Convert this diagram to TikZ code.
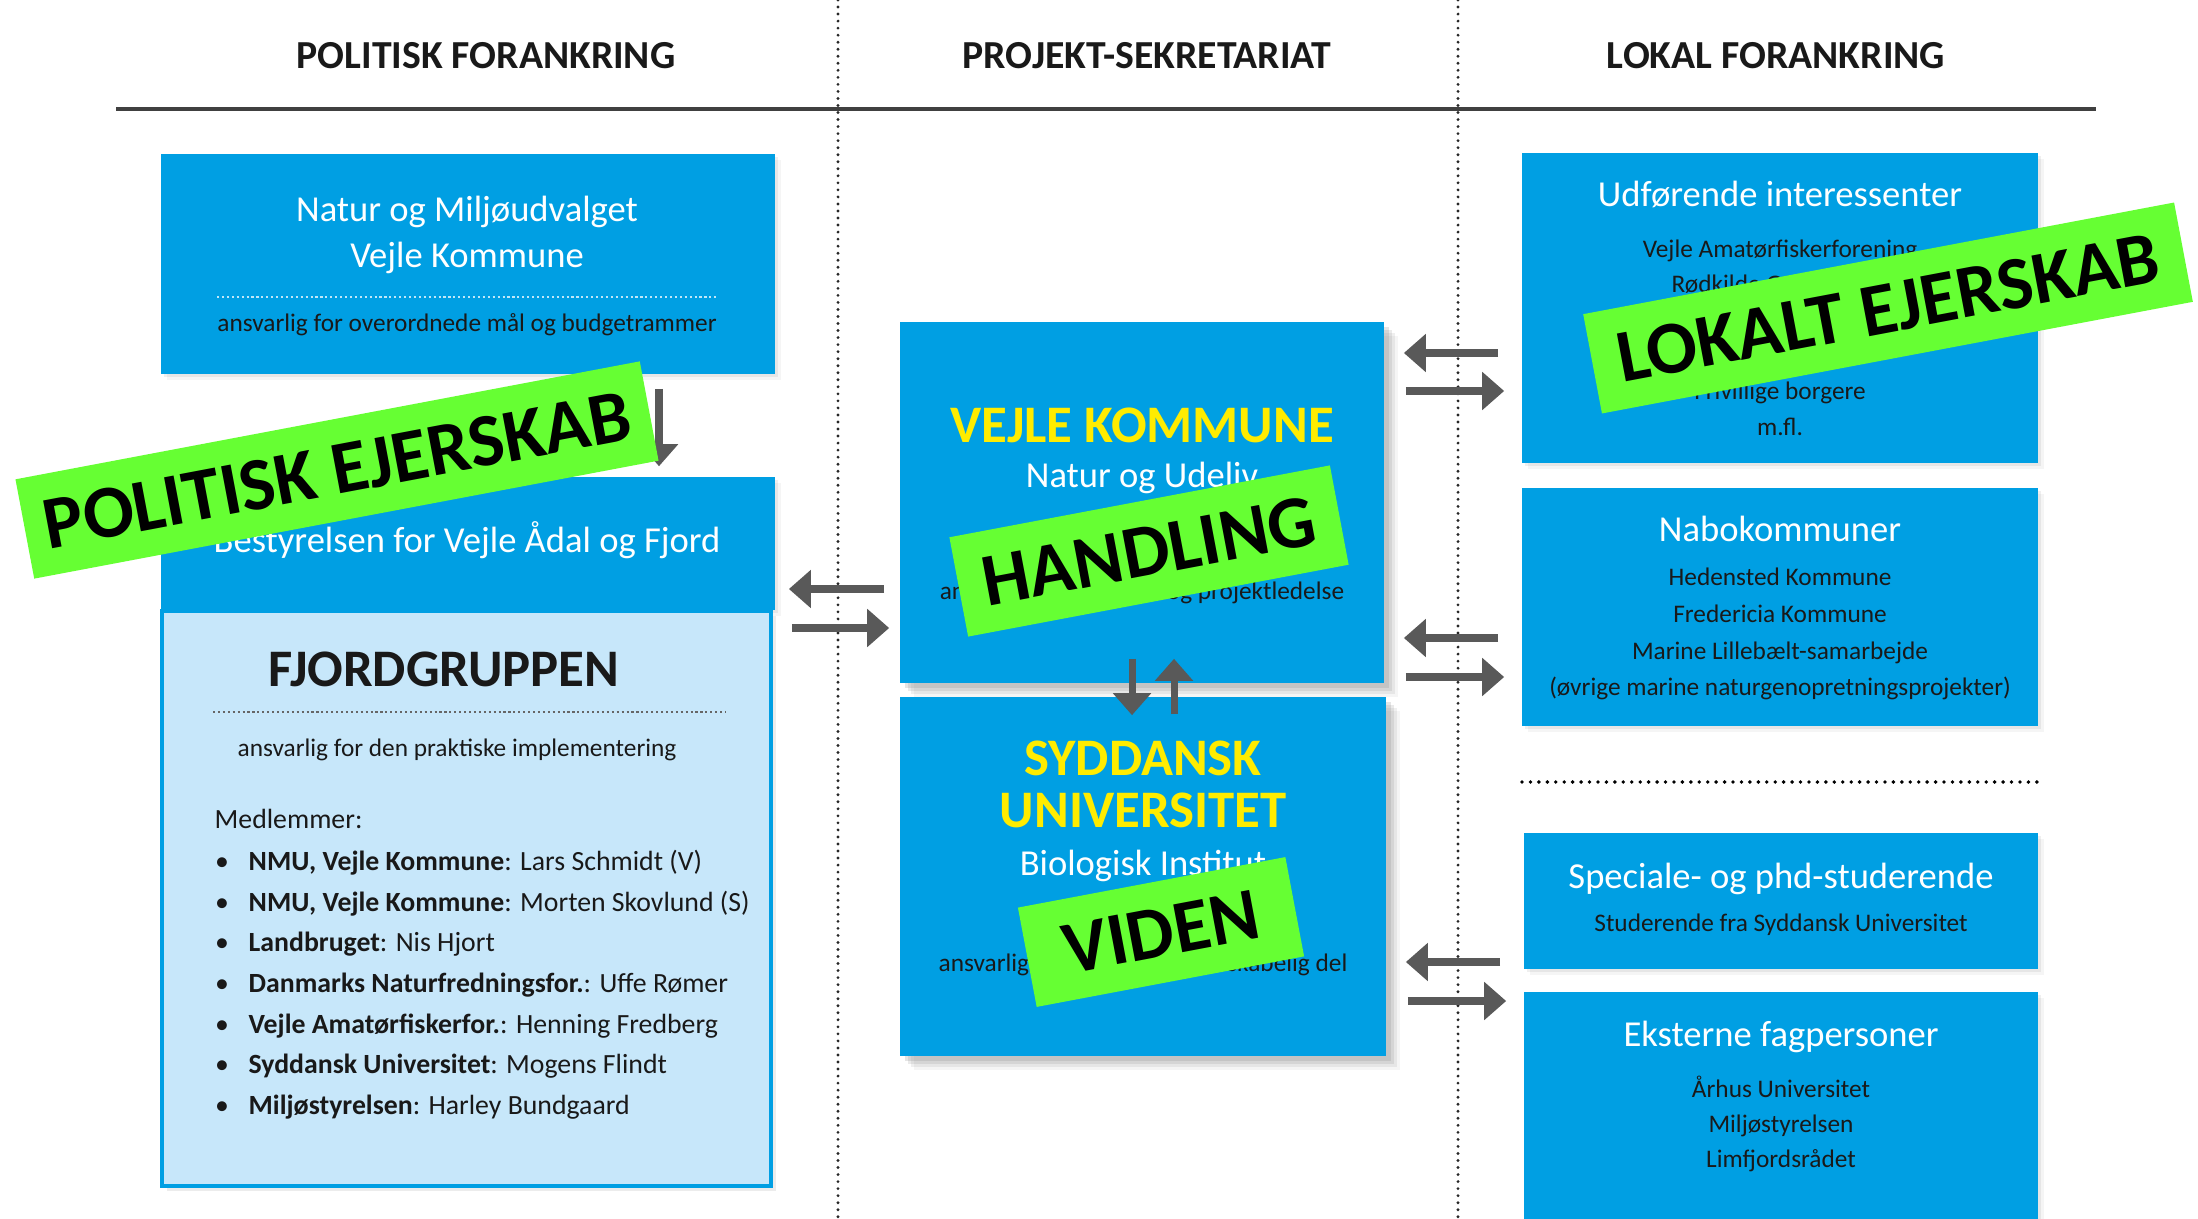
\documentclass[tikz,border=0pt]{standalone}
\usepackage{fontspec}
\setmainfont{Carlito}
\usepackage{tikz}
\usetikzlibrary{arrows.meta,shadows,calc}

\definecolor{boxblue}{HTML}{009FE3}
\definecolor{paleblue}{HTML}{C7E7FA}
\definecolor{signgreen}{HTML}{66FF33}
\definecolor{arrowgray}{HTML}{595959}
\definecolor{vkyellow}{HTML}{FFEC00}

\tikzset{
  bluebox/.style={fill=boxblue, inner sep=0pt,
    drop shadow={shadow xshift=0.03cm, shadow yshift=-0.03cm, opacity=0.12},
    drop shadow={shadow xshift=0.06cm, shadow yshift=-0.06cm, opacity=0.08}},
  deepbox/.style={fill=boxblue, inner sep=0pt,
    drop shadow={shadow xshift=0.14cm, shadow yshift=-0.14cm, opacity=0.08},
    drop shadow={shadow xshift=0.11cm, shadow yshift=-0.11cm, opacity=0.12},
    drop shadow={shadow xshift=0.08cm, shadow yshift=-0.08cm, opacity=0.16},
    drop shadow={shadow xshift=0.05cm, shadow yshift=-0.05cm, opacity=0.2}},
  colhead/.style={inner sep=0pt, text=black!90, font=\fontsize{11.3}{13}\selectfont\bfseries},
  boxtitle/.style={inner sep=0pt, text=white, text height=0.7em, text depth=0.2em,
    font=\fontsize{10.4}{12}\selectfont},
  bigtitle/.style={inner sep=0pt, text=vkyellow, font=\fontsize{15}{17}\selectfont\bfseries},
  small/.style={inner sep=0pt, text=black!90, text height=0.7em, text depth=0.2em,
    font=\fontsize{7.2}{9}\selectfont},
  member/.style={inner sep=0pt, text=black!90, text height=0.7em, text depth=0.2em,
    font=\fontsize{7.9}{10}\selectfont},
  arr/.style={draw=arrowgray, line width=2pt, -{Triangle[width=0.37cm,length=0.22cm]}},
  banner/.style={fill=signgreen, rotate=10.7, minimum height=1.01cm, inner sep=0pt,
    font=\fontsize{21.3}{24}\selectfont\bfseries},
  coldots/.style={black!85, line width=0.9pt, line cap=round, dash pattern=on 0pt off 2pt},
}

\begin{document}
\begin{tikzpicture}[x=0.01cm, y=-0.01cm]
  \useasboundingbox (0,0) rectangle (2198,1219);
  \clip (0,0) rectangle (2198,1219);
  \fill[white] (0,0) rectangle (2198,1219);

  % колонки
  \draw[coldots] (838,0) -- (838,1219);
  \draw[coldots] (1458,0) -- (1458,1219);
  \draw[black!75, line width=1pt] (116,109) -- (2096,109);
  \node[colhead] (h1) at (486,56) {POLITISK FORANKRING};
  \node[colhead] (h2) at (1147,56) {PROJEKT-SEKRETARIAT};
  \node[colhead] (h3) at (1776,56) {LOKAL FORANKRING};

  % politisk
  \node[bluebox, minimum width=6.14cm, minimum height=2.2cm] (nmu) at (468,264) {};
  \node[boxtitle] (nmu-1) at (467,213) {Natur og Miljøudvalget};
  \node[boxtitle] (nmu-2) at (467,259) {Vejle Kommune};
  \draw[white!75!boxblue, line width=0.4pt, dash pattern=on 0.6pt off 0.8pt] (217,297) -- (719,297);
  \node[small] (nmu-3) at (467,323) {ansvarlig for overordnede mål og budgetrammer};

  \node[bluebox, minimum width=6.14cm, minimum height=1.33cm] (best) at (468,543.5) {};
  \node[boxtitle] (best-1) at (467,544) {Bestyrelsen for Vejle Ådal og Fjord};

  \node[fill=paleblue, draw=boxblue, line width=1.2pt, inner sep=0pt,
    minimum width=6.08cm, minimum height=5.75cm,
    drop shadow={shadow xshift=0.05cm, shadow yshift=-0.05cm, opacity=0.15}] (fjord) at (466.5,898.5) {};
  \node[inner sep=0pt, text=black!90, font=\fontsize{15}{17}\selectfont\bfseries] (fjord-1) at (444,669) {FJORDGRUPPEN};
  \draw[black!60, line width=0.4pt, dash pattern=on 0.6pt off 0.8pt] (213,712) -- (726,712);
  \node[small] (fjord-2) at (457,748) {ansvarlig for den praktiske implementering};
  \node[member, anchor=west] (fjord-3) at (214,820) {Medlemmer:};
  \foreach \org/\who [count=\i] in {
      {NMU, Vejle Kommune}/{Lars Schmidt (V)},
      {NMU, Vejle Kommune}/{Morten Skovlund (S)},
      {Landbruget}/{Nis Hjort},
      {Danmarks Naturfredningsfor.}/{Uffe Rømer},
      {Vejle Amatørfiskerfor.}/{Henning Fredberg},
      {Syddansk Universitet}/{Mogens Flindt},
      {Miljøstyrelsen}/{Harley Bundgaard}} {
    \node[member] (dot-\i) at (222,{862+40.6*(\i-1)}) {\textbullet};
    \node[member, anchor=west] (mem-\i) at (248,{862+40.6*(\i-1)}) {\textbf{\org}: \who};
  }

  % sekretariat
  \node[deepbox, minimum width=4.84cm, minimum height=3.61cm] (vk) at (1142,502.5) {};
  \node[bigtitle] (vk-1) at (1142,425) {VEJLE KOMMUNE};
  \node[boxtitle] (vk-2) at (1142,479) {Natur og Udeliv};
  \node[small] (vk-3) at (1142,591) {ansvarlig for økonomi og projektledelse};

  \node[deepbox, minimum width=4.86cm, minimum height=3.59cm] (sdu) at (1143,876.5) {};
  \node[bigtitle] (sdu-1) at (1143,758) {SYDDANSK};
  \node[bigtitle] (sdu-2) at (1143,810) {UNIVERSITET};
  \node[boxtitle] (sdu-3) at (1143,867) {Biologisk Institut};
  \node[small] (sdu-4) at (1143,963) {ansvarlig for den naturvidenskabelig del};

  % lokal
  \node[bluebox, minimum width=5.16cm, minimum height=3.1cm] (udf) at (1780,308) {};
  \node[boxtitle] (udf-0) at (1780,198) {Udførende interessenter};
  \node[small] (udf-1) at (1780,249) {Vejle Amatørfiskerforening};
  \node[small] (udf-2) at (1780,284) {Rødkilde Gymnasium};
  \node[small] (udf-5) at (1780,391) {Frivillige borgere};
  \node[small] (udf-6) at (1780,427) {m.fl.};

  \node[bluebox, minimum width=5.16cm, minimum height=2.38cm] (nabo) at (1780,607) {};
  \node[boxtitle] (nabo-0) at (1780,533) {Nabokommuner};
  \foreach \txt [count=\i] in {Hedensted Kommune, Fredericia Kommune,
      Marine Lillebælt-samarbejde, (øvrige marine naturgenopretningsprojekter)}
    \node[small] (nabo-\i) at (1780,{577+36.7*(\i-1)}) {\txt};

  \draw[black, line width=1.1pt, line cap=round, dash pattern=on 0pt off 2.4pt] (1522,782) -- (2041,782);

  \node[bluebox, minimum width=5.14cm, minimum height=1.36cm] (spec) at (1781,901) {};
  \node[boxtitle] (spec-0) at (1781,880) {Speciale- og phd-studerende};
  \node[small] (spec-1) at (1781,923) {Studerende fra Syddansk Universitet};

  \node[bluebox, minimum width=5.14cm, minimum height=2.6cm] (ekst) at (1781,1122) {};
  \node[boxtitle] (ekst-0) at (1781,1038) {Eksterne fagpersoner};
  \foreach \txt [count=\i] in {Århus Universitet, Miljøstyrelsen, Limfjordsrådet}
    \node[small] (ekst-\i) at (1781,{1089+35*(\i-1)}) {\txt};

  % pile
  \draw[arr, shorten <=0.14cm, shorten >=0.1cm] (nmu.south -| 659,0) -- (best.north -| 659,0);
  \draw[arr, shorten <=0.15cm, shorten >=0.13cm] (vk.west |- 0,589) -- (best.east |- 0,589);
  \draw[arr, shorten <=0.19cm, shorten >=0.1cm] (fjord.east |- 0,628) -- (vk.west |- 0,628);
  \draw[arr] ($(vk.south)+(-10,-25)$) -- ($(sdu.north)+(-11,19)$);
  \draw[arr] ($(sdu.north)+(31,18)$) -- ($(vk.south)+(32,-25)$);
  \draw[arr, shorten <=0.23cm, shorten >=0.19cm] (udf.west |- 0,353) -- (vk.east |- 0,353);
  \draw[arr, shorten <=0.21cm, shorten >=0.17cm] (vk.east |- 0,391) -- (udf.west |- 0,391);
  \draw[arr, shorten <=0.23cm, shorten >=0.19cm] (nabo.west |- 0,638) -- (vk.east |- 0,638);
  \draw[arr, shorten <=0.21cm, shorten >=0.17cm] (vk.east |- 0,677) -- (nabo.west |- 0,677);
  \draw[arr, shorten <=0.23cm, shorten >=0.19cm] (spec.west |- 0,962) -- (sdu.east |- 0,962);
  \draw[arr, shorten <=0.21cm, shorten >=0.17cm] (sdu.east |- 0,1001) -- (ekst.west |- 0,1001);

  % skilte
  \node[banner, minimum width=6.35cm] (pol) at (337,470) {POLITISK EJERSKAB};
  \node[banner, minimum width=6.01cm] (lok) at (1888,308) {LOKALT EJERSKAB};
  \node[banner, minimum width=3.87cm] (hand) at (1149,551) {HANDLING};
  \node[banner, minimum width=2.72cm] (vid) at (1161,932) {VIDEN};
\end{tikzpicture}
\end{document}
